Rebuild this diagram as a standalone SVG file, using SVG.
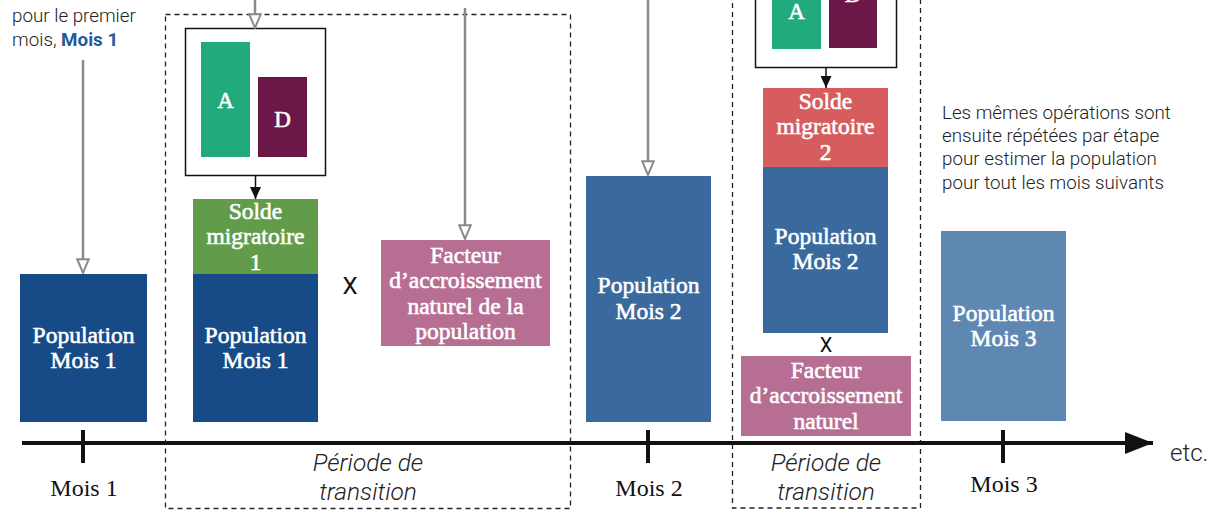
<svg xmlns="http://www.w3.org/2000/svg" width="1229" height="512" viewBox="0 0 1229 512">
<style>
.lbl{font-family:"Liberation Serif",serif;font-size:23.5px;fill:#ffffff;stroke:#ffffff;stroke-width:0.6;text-anchor:middle}
.ad{font-family:"Liberation Serif",serif;font-size:23px;fill:#ffffff;stroke:#ffffff;stroke-width:0.6;text-anchor:middle}
.tick{font-family:"Liberation Serif",serif;font-size:24px;fill:#111;text-anchor:middle}
.note{font-family:Roboto,"Liberation Sans",sans-serif;font-weight:300;font-size:18.8px;fill:#222}
.period{font-family:Roboto,"Liberation Sans",sans-serif;font-weight:300;font-style:italic;font-size:24.5px;fill:#222;text-anchor:middle}
.dash{fill:none;stroke:#222;stroke-width:1.3;stroke-dasharray:5,4}
.frame{fill:#ffffff;stroke:#111;stroke-width:1.5}
.gray{stroke:#8a8a8a;stroke-width:2.5;fill:none}
.blk{stroke:#111;stroke-width:1.5;fill:none}
</style>
<defs>
<marker id="hollow" viewBox="0 0 16 14" refX="15" refY="7" markerWidth="16" markerHeight="14" markerUnits="userSpaceOnUse" orient="auto">
<path d="M1.2,1.2 L14.8,7 L1.2,12.8 z" fill="#ffffff" stroke="#8a8a8a" stroke-width="2"/>
</marker>
<marker id="solid" viewBox="0 0 12 11" refX="12" refY="5.5" markerWidth="12" markerHeight="11" markerUnits="userSpaceOnUse" orient="auto">
<path d="M0,0 L12,5.5 L0,11 z" fill="#111"/>
</marker>
<marker id="big" viewBox="0 0 28 22" refX="28" refY="11" markerWidth="28" markerHeight="22" markerUnits="userSpaceOnUse" orient="auto">
<path d="M0,0 L28,11 L0,22 z" fill="#111"/>
</marker>
</defs>
<rect width="1229" height="512" fill="#ffffff"/>

<g id="periods">
<rect class="dash" x="165.5" y="14.5" width="405" height="494"/>
<rect class="dash" x="732.5" y="-20" width="188" height="528"/>
<text class="period" x="368" y="471">Période de</text>
<text class="period" x="368" y="500">transition</text>
<text class="period" x="826" y="471">Période de</text>
<text class="period" x="826" y="500">transition</text>
</g>

<g id="intro-note">
<text class="note" x="12" y="22">pour le premier</text>
<text class="note" x="12" y="46">mois, <tspan font-weight="bold" fill="#1f5a9a">Mois 1</tspan></text>
</g>

<g id="repeat-note">
<text class="note" x="942" y="119">Les mêmes opérations sont</text>
<text class="note" x="942" y="142">ensuite répétées par étape</text>
<text class="note" x="942" y="165">pour estimer la population</text>
<text class="note" x="942" y="189">pour tout les mois suivants</text>
</g>

<g id="pop-mois1">
<rect x="20" y="274" width="127" height="148" fill="#174b87"/>
<text class="lbl" x="83.5" y="343">Population</text>
<text class="lbl" x="83.5" y="368">Mois 1</text>
</g>

<g id="ad-box-1">
<rect class="frame" x="185.5" y="28.5" width="140" height="147"/>
<rect x="201" y="42" width="49" height="115" fill="#21ab7c"/>
<rect x="258" y="77" width="49" height="80" fill="#6b1748"/>
<text class="ad" x="225.5" y="108">A</text>
<text class="ad" x="282.5" y="127">D</text>
</g>

<g id="solde-1">
<rect x="193" y="199" width="125" height="75" fill="#629c4b"/>
<text class="lbl" x="255.5" y="219">Solde</text>
<text class="lbl" x="255.5" y="244">migratoire</text>
<text class="lbl" x="255.5" y="270">1</text>
</g>

<g id="pop-mois1-b">
<rect x="193" y="274" width="125" height="148" fill="#174b87"/>
<text class="lbl" x="255.5" y="343">Population</text>
<text class="lbl" x="255.5" y="368">Mois 1</text>
</g>

<g id="times-1">
<text x="350" y="294" font-family="Roboto,'Liberation Sans',sans-serif" font-size="24" fill="#111" text-anchor="middle">X</text>
</g>

<g id="facteur-1">
<rect x="381" y="240" width="169" height="106" fill="#b76e93"/>
<text class="lbl" x="465.5" y="263">Facteur</text>
<text class="lbl" x="465.5" y="288">d’accroissement</text>
<text class="lbl" x="465.5" y="314">naturel de la</text>
<text class="lbl" x="465.5" y="339">population</text>
</g>

<g id="pop-mois2">
<rect x="586" y="176" width="125" height="246" fill="#3a6a9d"/>
<text class="lbl" x="648.5" y="293">Population</text>
<text class="lbl" x="648.5" y="319">Mois 2</text>
</g>

<g id="ad-box-2">
<rect class="frame" x="755.5" y="-80" width="141" height="147.5"/>
<rect x="772" y="-30" width="49" height="79" fill="#21ab7c"/>
<rect x="829" y="-60" width="48" height="108" fill="#6b1748"/>
<text class="ad" x="796.5" y="19">A</text>
<text class="ad" x="853" y="2">D</text>
</g>

<g id="solde-2">
<rect x="763" y="88" width="125" height="79" fill="#d65c5e"/>
<text class="lbl" x="825.5" y="109">Solde</text>
<text class="lbl" x="825.5" y="134">migratoire</text>
<text class="lbl" x="825.5" y="160">2</text>
</g>

<g id="pop-mois2-b">
<rect x="763" y="167" width="125" height="166" fill="#3a6a9d"/>
<text class="lbl" x="825.5" y="244">Population</text>
<text class="lbl" x="825.5" y="269">Mois 2</text>
</g>

<g id="times-2">
<text x="826" y="352" font-family="Roboto,'Liberation Sans',sans-serif" font-size="20" fill="#111" text-anchor="middle">X</text>
</g>

<g id="facteur-2">
<rect x="741" y="356" width="170" height="80" fill="#b76e93"/>
<text class="lbl" x="826" y="378">Facteur</text>
<text class="lbl" x="826" y="403">d’accroissement</text>
<text class="lbl" x="826" y="429">naturel</text>
</g>

<g id="pop-mois3">
<rect x="941" y="231" width="125" height="190" fill="#5e88b2"/>
<text class="lbl" x="1003.5" y="321">Population</text>
<text class="lbl" x="1003.5" y="346">Mois 3</text>
</g>

<g id="timeline">
<line x1="22" y1="443" x2="1153" y2="443" stroke="#111" stroke-width="4" marker-end="url(#big)"/>
<line x1="83" y1="430" x2="83" y2="463" stroke="#111" stroke-width="4"/>
<line x1="648" y1="430" x2="648" y2="463" stroke="#111" stroke-width="4"/>
<line x1="1003" y1="430" x2="1003" y2="463" stroke="#111" stroke-width="4"/>
<text class="tick" x="84" y="496">Mois 1</text>
<text class="tick" x="649" y="496">Mois 2</text>
<text class="tick" x="1004" y="492">Mois 3</text>
<text x="1170" y="461" font-family="Roboto,'Liberation Sans',sans-serif" font-weight="300" font-size="24" fill="#222">etc.</text>
</g>

<g id="connectors">
<line class="gray" x1="83" y1="60" x2="83" y2="273" marker-end="url(#hollow)"/>
<line class="gray" x1="255" y1="0" x2="255" y2="28" marker-end="url(#hollow)"/>
<line class="gray" x1="465" y1="8" x2="465" y2="239" marker-end="url(#hollow)"/>
<line class="gray" x1="648" y1="0" x2="648" y2="175" marker-end="url(#hollow)"/>
<line class="blk" x1="255.5" y1="176" x2="255.5" y2="199" marker-end="url(#solid)"/>
<line class="blk" x1="826" y1="68" x2="826" y2="88" marker-end="url(#solid)"/>
</g>
</svg>
